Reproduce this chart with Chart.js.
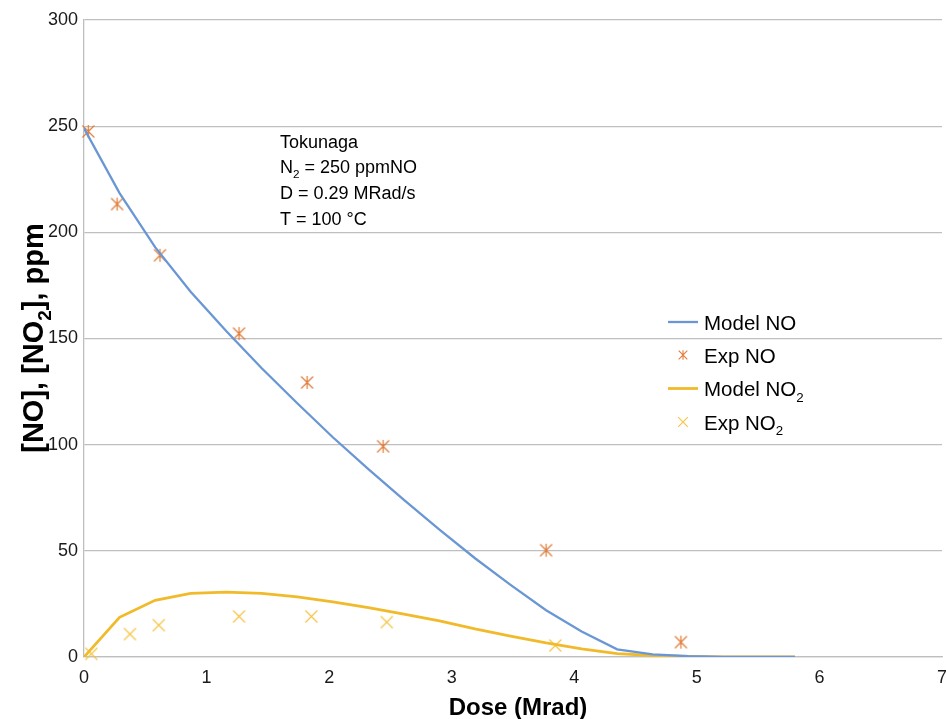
<!DOCTYPE html>
<html><head><meta charset="utf-8">
<script src="https://cdn.jsdelivr.net/npm/chart.js@4.4.1/dist/chart.umd.min.js"></script>
<style>html,body{margin:0;padding:0;background:#fff}canvas{display:block}</style>
</head><body>
<canvas id="c" width="946" height="719"></canvas>
<script>
// ---- data ----
const modelDose = [0, 0.29, 0.58, 0.87, 1.16, 1.45, 1.74, 2.03, 2.32, 2.61, 2.9, 3.19, 3.48, 3.77, 4.06, 4.35, 4.64, 4.93, 5.22, 5.51, 5.8];
const modelNO   = [249, 218.5, 193, 172, 153.5, 136, 119.5, 103.5, 88.5, 74, 60, 46.5, 34, 22, 12, 3.6, 1.2, 0.4, 0.1, 0, 0];
const modelNO2  = [0, 18.7, 26.7, 30, 30.6, 30, 28.3, 26, 23.2, 20.2, 17, 13.2, 9.8, 6.6, 3.8, 1.6, 0.7, 0.3, 0.1, 0.05, 0];
const expNODose  = [0.035, 0.27, 0.62, 1.265, 1.82, 2.44, 3.77, 4.87];
const expNO      = [247.5, 213.3, 189.2, 152.3, 129.3, 99.2, 50.3, 7];
const expNO2Dose = [0.06, 0.375, 0.61, 1.265, 1.855, 2.47, 3.845];
const expNO2     = [1.5, 10.8, 15, 19.1, 19.1, 16.4, 5.4];
const seriesLabels = ['Model NO', 'Exp NO', 'Model NO_2', 'Exp NO_2'];
const xTitle = 'Dose (Mrad)';
const yTitle = '[NO], [NO_2], ppm';
const noteLines = ['Tokunaga', 'N_2 = 250 ppmNO', 'D = 0.29 MRad/s', 'T = 100 °C'];

const C_BLUE = '#6a97d4', C_ORANGE = '#e07b39', C_GOLD = '#f0ba2a', C_GOLDPT = '#f5c444';
const FONT = '"Liberation Sans", Arial, sans-serif';

function zip(xs, ys){ return xs.map((x,i)=>({x:x, y:ys[i]})); }

function drawAsterisk(ctx, x, y, r, color, lw){
  ctx.save(); ctx.strokeStyle=color; ctx.lineWidth=lw; ctx.beginPath();
  ctx.moveTo(x-r,y-r); ctx.lineTo(x+r,y+r);
  ctx.moveTo(x+r,y-r); ctx.lineTo(x-r,y+r);
  ctx.moveTo(x,y-r*1.1); ctx.lineTo(x,y+r*1.1);
  ctx.stroke(); ctx.restore();
}
function drawX(ctx, x, y, r, color, lw){
  ctx.save(); ctx.strokeStyle=color; ctx.lineWidth=lw; ctx.beginPath();
  ctx.moveTo(x-r,y-r); ctx.lineTo(x+r,y+r);
  ctx.moveTo(x+r,y-r); ctx.lineTo(x-r,y+r);
  ctx.stroke(); ctx.restore();
}
const starImg = document.createElement('canvas');
starImg.width = 15; starImg.height = 15;
drawAsterisk(starImg.getContext('2d'), 7.5, 7.5, 6, C_ORANGE, 1.2);
const xImg = document.createElement('canvas');
xImg.width = 15; xImg.height = 15;
drawX(xImg.getContext('2d'), 7.5, 7.5, 6, C_GOLDPT, 1.2);

// rich text with "_2" subscripts
function parts(str){
  const out=[]; const re=/_(\d)/g; let last=0, m;
  while((m=re.exec(str))){ if(m.index>last) out.push({t:str.slice(last,m.index),sub:false}); out.push({t:m[1],sub:true}); last=re.lastIndex; }
  if(last<str.length) out.push({t:str.slice(last),sub:false});
  return out;
}
function richWidth(ctx, str, size, weight){
  let w=0; for(const p of parts(str)){ ctx.font = weight+' '+(p.sub?size*0.65:size)+'px '+FONT; w+=ctx.measureText(p.t).width; } return w;
}
function drawRich(ctx, str, x, y, size, weight, align, color){
  ctx.save(); ctx.fillStyle=color; ctx.textBaseline='alphabetic'; ctx.textAlign='left';
  let cx = x; if(align==='center') cx = x - richWidth(ctx,str,size,weight)/2;
  for(const p of parts(str)){
    const s = p.sub ? size*0.65 : size;
    ctx.font = weight+' '+s+'px '+FONT;
    ctx.fillText(p.t, cx, p.sub ? y + size*0.28 : y);
    cx += ctx.measureText(p.t).width;
  }
  ctx.restore();
}

const extras = {
  id:'extras',
  afterDraw(chart){
    const ctx = chart.ctx;
    // axis titles
    drawRich(ctx, xTitle, 518, 715, 24, 'bold', 'center', '#000');
    ctx.save(); ctx.translate(43, 338); ctx.rotate(-Math.PI/2);
    drawRich(ctx, yTitle, 0, 0, 29, 'bold', 'center', '#000');
    ctx.restore();
    // annotation
    noteLines.forEach((t,i)=> drawRich(ctx, t, 280, 147.5 + i*25.7, 18, 'normal', 'left', '#000'));
    // legend
    const rows = [322, 355, 388.5, 422];
    chart.data.datasets.forEach((ds,i)=>{
      const y = rows[i];
      if(ds.showLine){
        ctx.save(); ctx.strokeStyle=ds.borderColor; ctx.lineWidth=ds.borderWidth;
        ctx.beginPath(); ctx.moveTo(668,y); ctx.lineTo(698,y); ctx.stroke(); ctx.restore();
      } else if(i===1){ drawAsterisk(ctx, 683, y, 4.3, C_ORANGE, 1.1); }
      else { drawX(ctx, 683, y, 4.8, C_GOLDPT, 1.1); }
      drawRich(ctx, ds.label, 704, y + 7.5, 20.5, 'normal', 'left', '#000');
    });
  }
};

const tickFont = {family: FONT, size: 18};
new Chart(document.getElementById('c'), {
  type: 'scatter',
  data: {
    datasets: [
      {label: seriesLabels[0], data: zip(modelDose, modelNO), showLine: true, borderColor: C_BLUE, backgroundColor: C_BLUE, borderWidth: 2.3, pointRadius: 0, tension: 0},
      {label: seriesLabels[1], data: zip(expNODose, expNO), showLine: false, pointStyle: starImg, pointRadius: 1, borderWidth: 0, borderColor: C_ORANGE, clip: false},
      {label: seriesLabels[2], data: zip(modelDose, modelNO2), showLine: true, borderColor: C_GOLD, backgroundColor: C_GOLD, borderWidth: 2.8, pointRadius: 0, tension: 0},
      {label: seriesLabels[3], data: zip(expNO2Dose, expNO2), showLine: false, pointStyle: xImg, pointRadius: 1, borderWidth: 0, borderColor: C_GOLDPT, clip: false}
    ]
  },
  options: {
    responsive: false, animation: false, devicePixelRatio: 1,
    layout: {padding: {left: 0, right: 3, top: 20, bottom: 0}},
    plugins: {legend: {display: false}, tooltip: {enabled: false}},
    events: [],
    scales: {
      x: {
        type: 'linear', min: 0, max: 7,
        ticks: {stepSize: 1, padding: 10, color: '#1a1a1a', font: tickFont, maxRotation: 0, autoSkip: false},
        grid: {display: false, drawTicks: false},
        border: {display: true, color: '#bfbfbf', width: 1.3},
        afterFit(s){ s.height = 62; s.paddingLeft = 0; s.paddingRight = 0; }
      },
      y: {
        type: 'linear', min: 0, max: 300,
        ticks: {stepSize: 50, padding: 6, color: '#1a1a1a', font: tickFont},
        grid: {color: '#bfbfbf', lineWidth: 1.3, drawTicks: false},
        border: {display: true, color: '#bfbfbf', width: 1.3},
        afterFit(s){ s.width = 84; s.paddingTop = 0; s.paddingBottom = 0; }
      }
    }
  },
  plugins: [extras]
});
</script>
</body></html>
